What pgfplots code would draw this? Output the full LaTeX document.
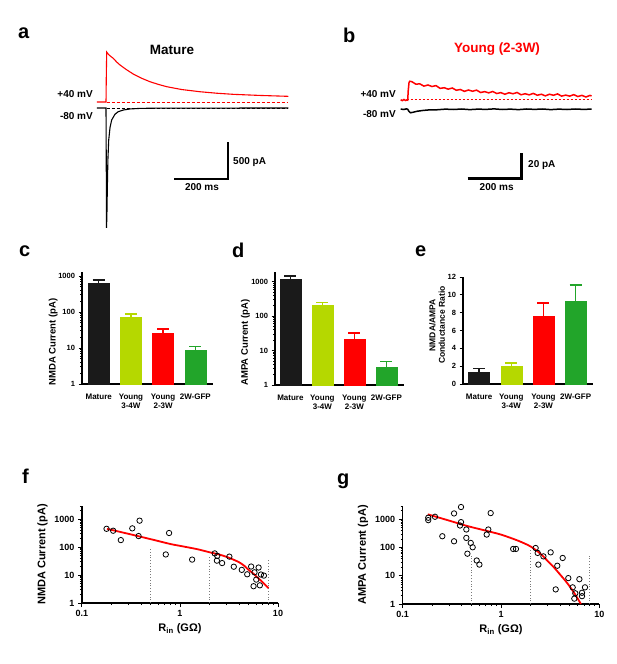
\documentclass[border=0pt]{standalone}
\usepackage{fontspec}
\setmainfont{Liberation Sans}
\usepackage{pgfplots}
\pgfplotsset{compat=1.18}
\definecolor{cBlk}{HTML}{1A1A1A}
\definecolor{cLime}{HTML}{B5D800}
\definecolor{cRed}{HTML}{FF0000}
\definecolor{cGrn}{HTML}{22A52A}
\definecolor{dotgray}{HTML}{7A7A7A}

\pgfplotsset{
  tracepanel/.style={scale only axis, hide axis, clip=false},
  barpanel/.style={
    scale only axis, clip=false,
    axis lines*=left,
    axis line style={line width=1.3pt, -},
    tick style={line width=1pt, black},
    major tick length=3.5pt, minor tick length=2pt,
    tick align=outside,
    xtick={0,1,2,3},
    xticklabels={Mature,{Young\\3-4W},{Young\\2-3W},2W-GFP},
    xtick style={draw=none},
    xticklabel style={font=\bfseries\fontsize{8}{8.5}\selectfont, align=center, yshift=-3pt},
    yticklabel style={font=\bfseries\fontsize{7.5}{8}\selectfont},
    ylabel style={font=\bfseries\fontsize{9.5}{10}\selectfont, align=center},
    xmin=-0.52, xmax=3.55,
  },
  scatpanel/.style={
    scale only axis, clip=false,
    axis lines*=left, axis line style={line width=1.3pt, -},
    tick style={line width=1pt, black},
    major tick length=4pt, minor tick length=2.2pt, tick align=outside,
    xmin=0.1, xmax=10, ymin=1, ymax=3000,
    xtick={0.1,1,10}, xticklabels={0.1,1,10},
    minor xtick={0.2,0.3,0.4,0.5,0.6,0.7,0.8,0.9,2,3,4,5,6,7,8,9},
    ytick={1,10,100,1000}, yticklabels={1,10,100,1000},
    minor ytick={2,3,...,9,20,30,...,90,200,300,...,900,2000,3000},
    ticklabel style={font=\bfseries\fontsize{9}{10}\selectfont},
    label style={font=\bfseries\fontsize{11}{12}\selectfont},
    xlabel={R\textsubscript{in} (GΩ)},
    width=196pt, height=97pt,
  },
  fitline/.style={cRed, line width=1.8pt, smooth, no marks},
  cellmarks/.style={only marks, mark=o, mark size=2.7pt, mark options={black, line width=0.8pt}},
  vdot/.style={dotgray, line width=0.8pt, dotted, no marks},
  sbar/.style={black, line width=2.6pt, no marks},
}

% x, value, error, colour
\newcommand{\onebar}[4]{%
  \addplot[ybar, bar shift=0pt, bar width=21pt, fill=#4, draw=#4,
    error bars/.cd, y dir=plus, y explicit,
    error bar style={line width=1.3pt, #4},
    error mark options={rotate=90, mark size=6pt, line width=1.3pt, #4}]
    coordinates {(#1,#2) +- (0,#3)};}

\begin{document}
\begin{tikzpicture}
\tikzset{lab/.style={font=\bfseries\fontsize{20}{22}\selectfont, anchor=base west, inner sep=0pt}}

% ---------- a: mature traces ----------
\begin{axis}[tracepanel, at={(60pt,-30pt)}, anchor=north west,
  width=240pt, height=210pt,
  xmin=-170.4, xmax=718.5, ymin=-1783, ymax=1054]
\addplot[cRed, line width=1.1pt, no marks] coordinates {
  (-34,81) (0,81) (1,400) (2.5,756) (8,730) (15,705) (27,671) (40,620)
  (52,581) (75,520) (101,459) (130,405) (163,355) (195,318) (225,288)
  (280,250) (348,220) (410,200) (471,185) (570,170) (675,158)};
\addplot[cRed, line width=0.9pt, dash pattern=on 3pt off 2pt, no marks] coordinates {(2,81) (675,81)};
\addplot[black, line width=0.9pt, dash pattern=on 3pt off 2pt, no marks] coordinates {(2,0) (675,0)};
\addplot[black, line width=1.1pt, no marks] coordinates {
  (-34,0) (0,0) (1,-800) (2,-1620) (3.5,-1400) (5,-1063) (7,-700) (10,-432)
  (15,-260) (21,-162) (33,-85) (45,-50) (64,-27) (90,-12) (126,-5) (200,-1) (675,0)};
\addplot[sbar] coordinates {(251.9,-959) (451.9,-959) (451.9,-459)};
\end{axis}
\node[font=\bfseries\fontsize{13.5}{15}\selectfont, anchor=base] at (172pt,-54pt) {Mature};
\node[font=\bfseries\fontsize{10}{12}\selectfont, anchor=base east, inner sep=0pt] at (93pt,-97pt) {+40 mV};
\node[font=\bfseries\fontsize{10}{12}\selectfont, anchor=base east, inner sep=0pt] at (93pt,-119pt) {-80 mV};
\node[font=\bfseries\fontsize{10}{12}\selectfont, anchor=base west, inner sep=0pt] at (233pt,-164pt) {500 pA};
\node[font=\bfseries\fontsize{10}{12}\selectfont, anchor=base, inner sep=0pt] at (202pt,-190.5pt) {200 ms};
\node[lab] at (18pt,-38pt) {a};

% ---------- b: young traces ----------
\begin{axis}[tracepanel, at={(380pt,-30pt)}, anchor=north west,
  width=220pt, height=210pt,
  xmin=-102.6, xmax=712.2, ymin=-104.6, ymax=63.4]
\addplot[cRed, line width=0.9pt, dash pattern=on 2pt off 2pt, no marks] coordinates {(-4,8) (681,8)};
\addplot[cRed, line width=1.5pt, no marks] coordinates {
  (-26,7.6) (-20,6.9) (-14,7.8) (-8,7.0) (-3,7.5) (0,7.3) (2,15) (5,21.5) (8,22.4)
  (15,22.1) (30,20.1) (45,20.3) (60,18.5) (75,19.4) (90,18.2) (105,18.9) (120,16.7)
  (135,17.2) (150,16.1) (165,17.0) (180,15.2) (195,15.8) (210,14.3) (225,15.4)
  (240,14.4) (255,15.3) (270,13.4) (285,14.1) (300,13.1) (315,14.2) (330,12.6)
  (345,13.3) (360,12.0) (375,13.2) (390,12.4) (405,13.4) (420,11.6) (435,12.4)
  (450,11.5) (465,12.7) (480,11.2) (495,12.0) (510,10.7) (525,12.0) (540,11.2)
  (555,12.3) (570,10.5) (585,11.3) (600,10.5) (615,11.7) (630,10.2) (645,11.1)
  (660,9.8) (675,11.1) (681,10.6)};
\addplot[black, line width=1.5pt, no marks] coordinates {
  (-26,0.2) (-15,-0.2) (-5,0.3) (0,0) (4,-1.5) (10,-2.8) (20,-2.4) (35,-1.6)
  (55,-1.0) (80,-0.5) (110,-0.4) (140,0.1) (170,-0.2) (200,0.2) (230,-0.3)
  (260,0.1) (290,-0.1) (320,0.3) (350,-0.2) (380,0.1) (410,-0.3) (440,0.2)
  (470,-0.1) (500,0.2) (530,-0.3) (560,0.1) (590,-0.2) (620,0.2) (650,-0.1) (681,0.1)};
\addplot[sbar] coordinates {(222.2,-55.2) (422.2,-55.2) (422.2,-35.2)};
\end{axis}
\node[font=\bfseries\fontsize{13.5}{15}\selectfont, anchor=base, text=cRed] at (497pt,-52pt) {Young (2-3W)};
\node[font=\bfseries\fontsize{10}{12}\selectfont, anchor=base east, inner sep=0pt] at (396pt,-97.5pt) {+40 mV};
\node[font=\bfseries\fontsize{10}{12}\selectfont, anchor=base east, inner sep=0pt] at (396pt,-117.5pt) {-80 mV};
\node[font=\bfseries\fontsize{10}{12}\selectfont, anchor=base west, inner sep=0pt] at (528pt,-167pt) {20 pA};
\node[font=\bfseries\fontsize{10}{12}\selectfont, anchor=base, inner sep=0pt] at (496.7pt,-190.5pt) {200 ms};
\node[lab] at (343pt,-42pt) {b};

% ---------- c: NMDA current ----------
\begin{axis}[barpanel, ymode=log, ymin=1, ymax=1300,
  ytick={1,10,100,1000}, yticklabels={1,10,100,1000},
  minor ytick={2,3,...,9,20,30,...,90,200,300,...,900},
  at={(82pt,-272pt)}, anchor=north west,
  width=131pt, height=112pt,
  ylabel={NMDA Current (pA)},
  ylabel style={at={(axis description cs:-0.22,0.375)}, anchor=center}]
\onebar{0}{630}{150}{cBlk}
\onebar{1}{73}{15}{cLime}
\onebar{2}{26}{8}{cRed}
\onebar{3}{8.8}{2.2}{cGrn}
\end{axis}
\node[lab] at (19pt,-256pt) {c};

% ---------- d: AMPA current ----------
\begin{axis}[barpanel, ymode=log, ymin=1, ymax=1950,
  ytick={1,10,100,1000}, yticklabels={1,10,100,1000},
  minor ytick={2,3,...,9,20,30,...,90,200,300,...,900},
  at={(275pt,-272pt)}, anchor=north west,
  width=129pt, height=113pt, xmin=-0.48,
  ylabel={AMPA Current (pA)},
  ylabel style={at={(axis description cs:-0.23,0.375)}, anchor=center}]
\onebar{0}{1220}{270}{cBlk}
\onebar{1}{208}{47}{cLime}
\onebar{2}{22}{11}{cRed}
\onebar{3}{3.4}{1.4}{cGrn}
\end{axis}
\node[lab] at (232pt,-257pt) {d};

% ---------- e: NMDA/AMPA ratio ----------
\begin{axis}[barpanel, at={(463pt,-277pt)}, anchor=north west,
  width=130pt, height=107pt, ymin=0, ymax=12, xmin=-0.5, xmax=3.54,
  ytick={0,2,4,6,8,10,12}, yticklabels={0,2,4,6,8,10,12},
  ylabel={NMDA/AMPA\\Conductance Ratio},
  ylabel style={at={(axis description cs:-0.2,0.55)}, anchor=center,
    font=\bfseries\fontsize{8.5}{9.5}\selectfont}]
\onebar{0}{1.35}{0.35}{cBlk}
\onebar{1}{2.0}{0.35}{cLime}
\onebar{2}{7.6}{1.47}{cRed}
\onebar{3}{9.3}{1.8}{cGrn}
\end{axis}
\node[lab] at (415pt,-256pt) {e};

% ---------- f: NMDA vs Rin ----------
\begin{axis}[scatpanel, xmode=log, ymode=log, at={(82pt,-506pt)}, anchor=north west,
  ylabel={NMDA Current (pA)}]
\addplot[vdot] coordinates {(0.5,1) (0.5,100)};
\addplot[vdot] coordinates {(2,1) (2,50)};
\addplot[vdot] coordinates {(8,1) (8,38)};
\addplot[fitline] coordinates {
  (0.18,455) (0.3,300) (0.5,195) (0.8,130) (1,112) (1.5,85) (2,66) (2.5,55)
  (3,45) (3.5,36) (4,29) (4.5,22) (5,15.5) (5.5,12) (6,9) (7,5.5) (8,3.4)};
\addplot[cellmarks] table[row sep=\\] {
  x y \\
  0.178 457 \\ 0.208 390 \\ 0.249 180 \\ 0.326 474 \\ 0.387 895 \\ 0.378 251 \\
  0.774 323 \\ 0.716 55 \\ 1.33 36 \\ 2.26 60 \\ 2.40 49 \\ 2.38 33 \\
  2.69 27 \\ 3.19 46 \\ 3.54 20 \\ 4.27 15.4 \\ 4.85 10.7 \\ 5.32 20.3 \\
  5.76 12.6 \\ 6.34 18.7 \\ 6.0 6.9 \\ 5.63 4.0 \\ 6.53 4.3 \\ 6.7 10.5 \\ 7.18 9.6 \\
};
\end{axis}
\node[lab] at (22pt,-483pt) {f};

% ---------- g: AMPA vs Rin ----------
\begin{axis}[scatpanel, xmode=log, ymode=log, at={(402.7pt,-506pt)}, anchor=north west,
  width=196.6pt, height=98pt,
  ylabel={AMPA Current (pA)}]
\addplot[vdot] coordinates {(0.5,1) (0.5,50)};
\addplot[vdot] coordinates {(2,1) (2,90)};
\addplot[vdot] coordinates {(8,1) (8,56)};
\addplot[fitline] coordinates {
  (0.18,1520) (0.3,900) (0.45,590) (0.7,400) (1,290) (1.5,175) (2,110) (2.5,62)
  (3,33) (3.5,19) (4,11) (4.5,6.8) (5,4.2) (5.5,2.6) (6,1.6) (6.5,1)};
\addplot[cellmarks] table[row sep=\\] {
  x y \\
  0.182 1150 \\ 0.182 946 \\ 0.213 1245 \\ 0.253 254 \\ 0.333 1637 \\ 0.333 168 \\
  0.392 2760 \\ 0.392 803 \\ 0.383 611 \\ 0.444 440 \\ 0.444 221 \\ 0.492 147 \\
  0.515 103 \\ 0.455 61 \\ 0.566 35 \\ 0.603 25 \\ 0.715 291 \\ 0.743 440 \\
  0.785 1683 \\ 1.33 90 \\ 1.42 90 \\ 2.25 97 \\ 2.36 65 \\ 2.40 25 \\
  2.70 49 \\ 3.20 68 \\ 3.74 22.8 \\ 4.24 43 \\ 3.60 3.3 \\ 4.84 8.3 \\
  5.36 3.9 \\ 6.27 7.6 \\ 7.15 3.9 \\ 5.7 2.4 \\ 5.57 1.55 \\ 6.67 2.5 \\ 6.67 1.9 \\
};
\end{axis}
\node[lab] at (337pt,-484pt) {g};

\pgfresetboundingbox
\path (0pt,0pt) rectangle (617pt,-664pt);
\end{tikzpicture}
\end{document}
